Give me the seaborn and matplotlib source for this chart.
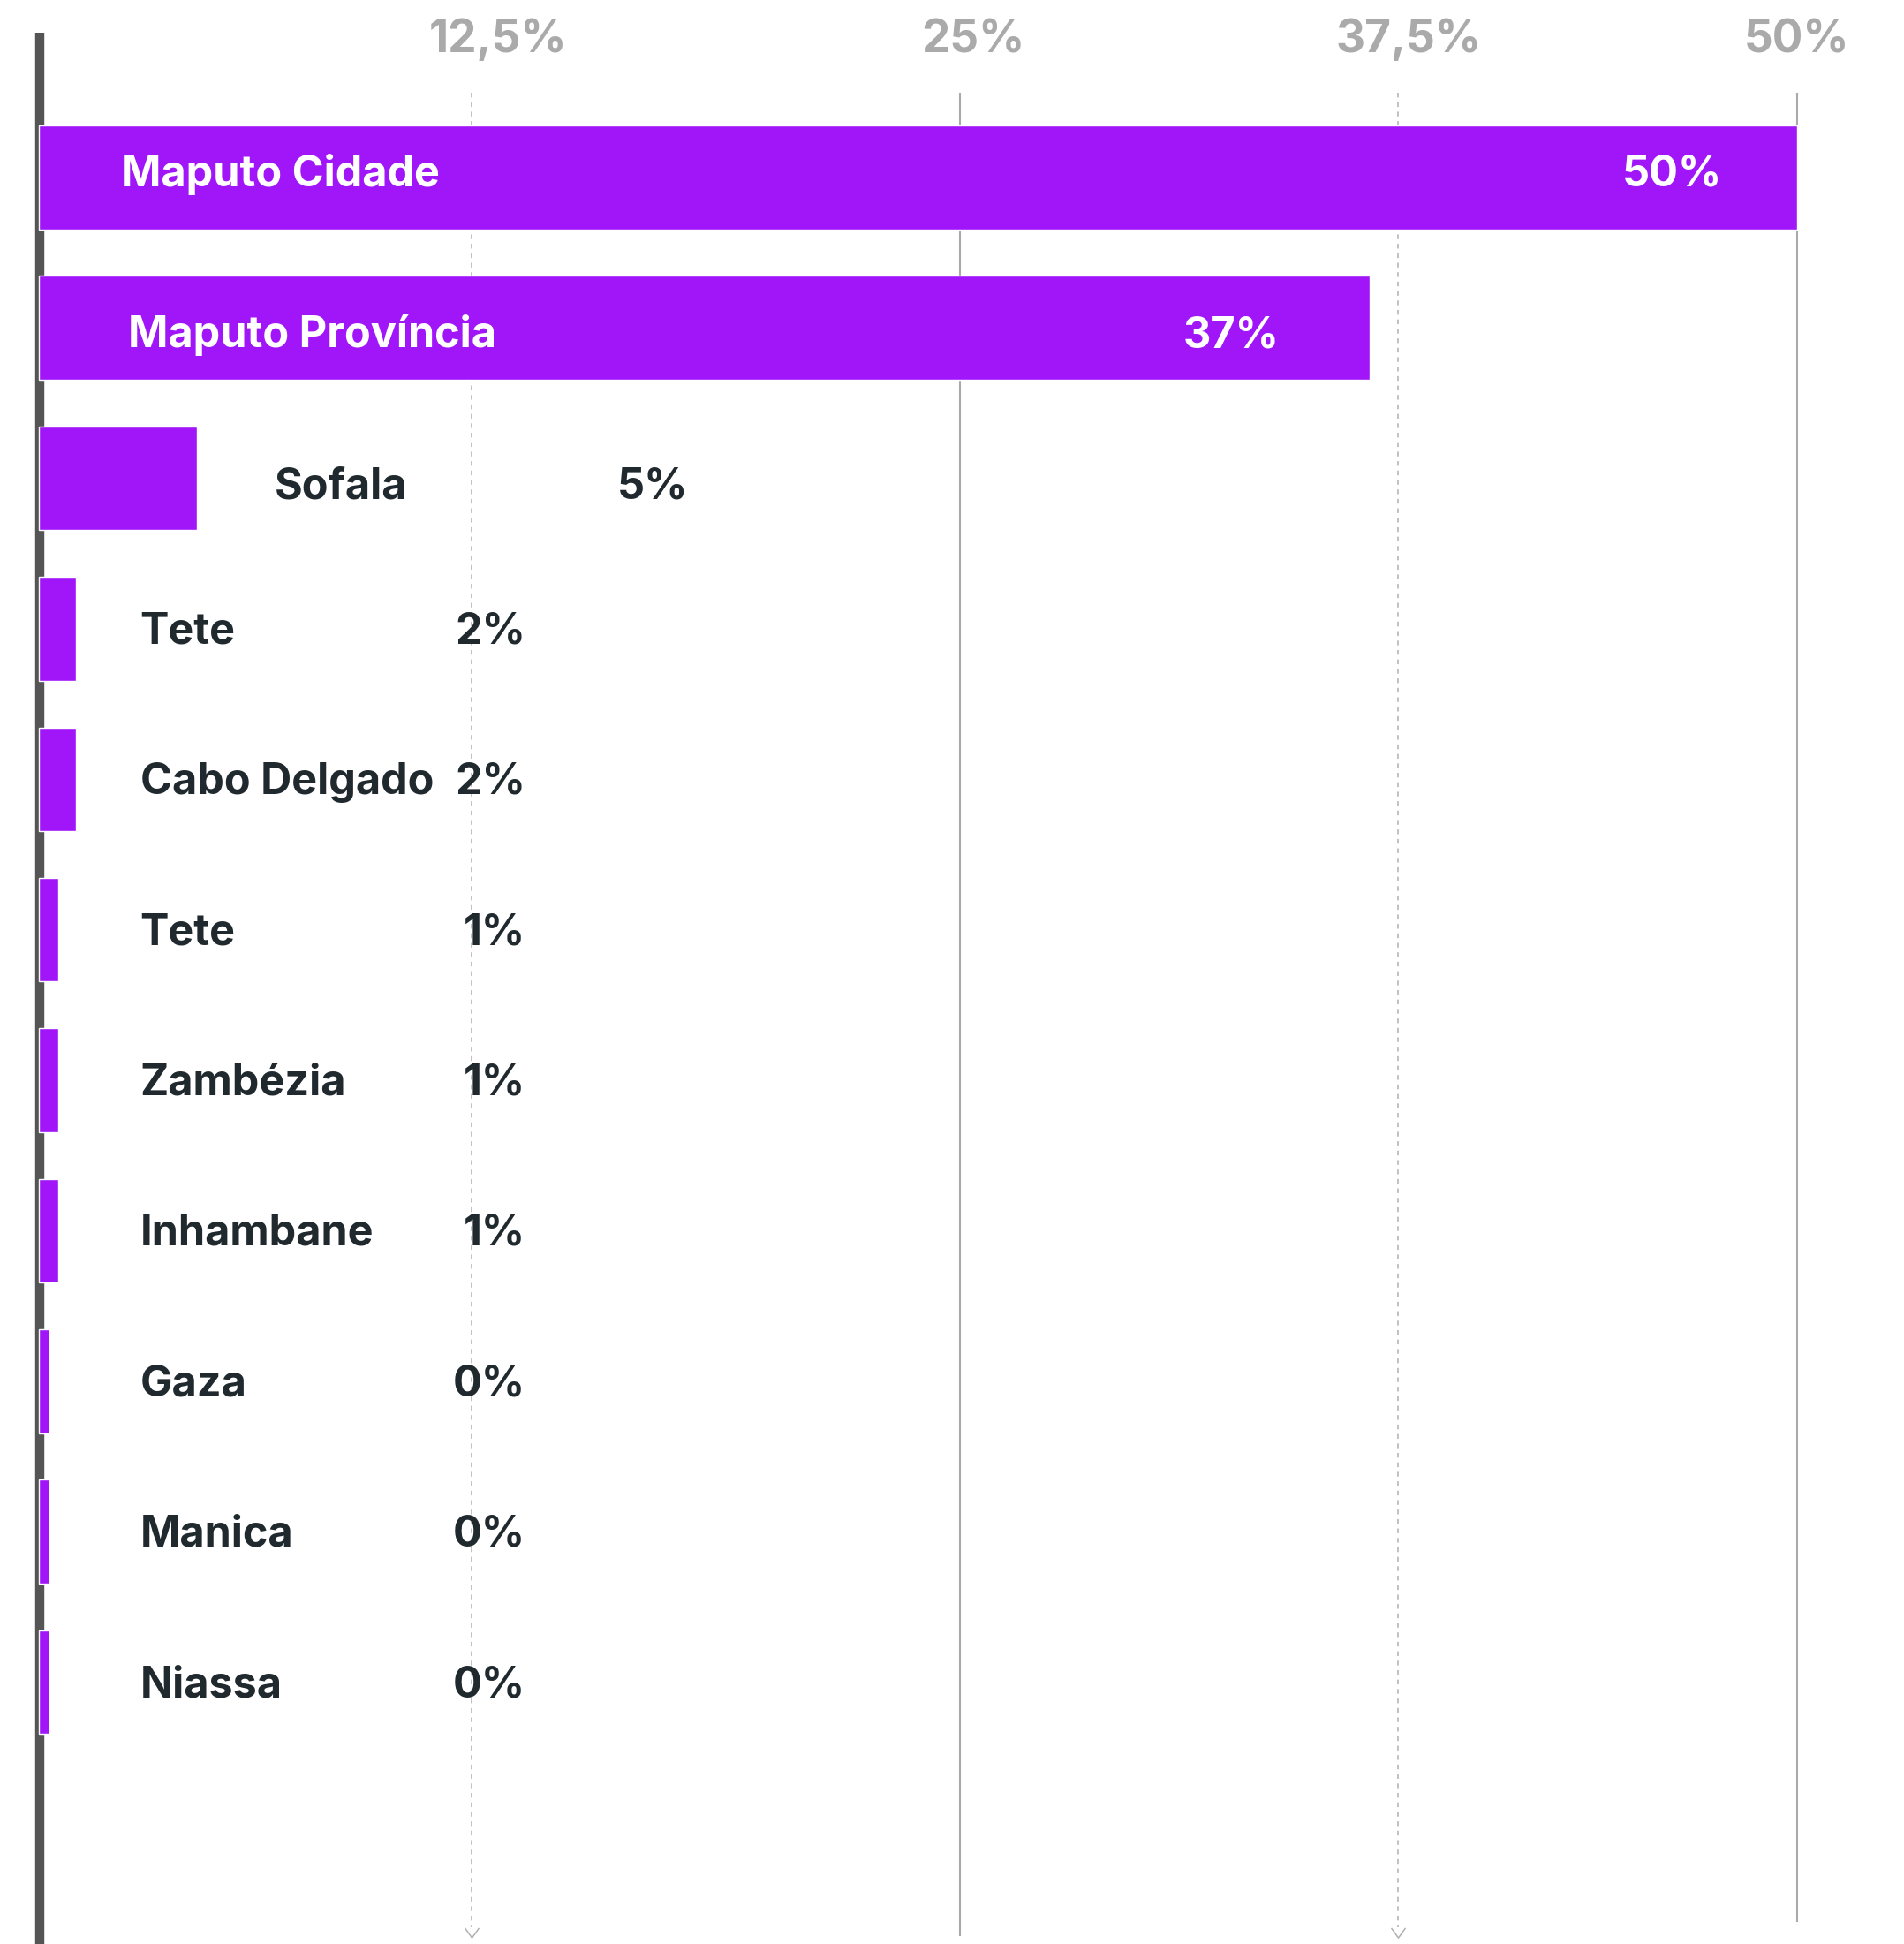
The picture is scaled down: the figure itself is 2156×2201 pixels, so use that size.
import matplotlib
matplotlib.use("Agg")
import matplotlib.pyplot as plt
from matplotlib.path import Path
import seaborn as sns

# Data
regions = ["Maputo Cidade", "Maputo Província", "Sofala", "Tete", "Cabo Delgado",
           "Tete", "Zambézia", "Inhambane", "Gaza", "Manica", "Niassa"]
shares = [50, 37.85, 4.5, 1.05, 1.05, 0.55, 0.55, 0.55, 0.3, 0.3, 0.3]
share_labels = ["50%", "37%", "5%", "2%", "2%", "1%", "1%", "1%", "0%", "0%", "0%"]

# gridlines as drawn in the reference (they are not quite at their nominal values)
grid_values = [12.3, 26.2, 38.65, 50]
grid_labels = ["12,5%", "25%", "37,5%", "50%"]
grid_label_x = [13.06, 26.57, 38.94, 50]
grid_dashed = [True, False, True, False]

PURPLE = "#A116F9"
DARK = "#20292E"
GRID = "#AAAAAA"

sns.set_style("white")
plt.rcParams["font.family"] = ["Inter", "DejaVu Sans"]

fig = plt.figure(figsize=(21.56, 22.01), dpi=100)
ax = fig.add_axes([0, 0, 1, 1])

rows = list(range(len(regions)))
sns.barplot(x=shares, y=rows, orient="h", color=PURPLE, saturation=1,
            width=0.69, ax=ax, zorder=3)

ax.set_xlim(-1.105, 53.04)
ax.set_ylim(11.739, -1.178)
ax.axis("off")

# left axis line (bars sit on top of it)
ax.vlines(0.03, -0.96, 12, color="#555555", lw=7.5, zorder=2, capstyle="butt")

# gridlines + top labels
chevron = Path([(-1, 0.7), (0, -0.7), (1, 0.7)], [Path.MOVETO, Path.LINETO, Path.LINETO])
for g, lab, lx, dashed in zip(grid_values, grid_labels, grid_label_x, grid_dashed):
    if dashed:
        ax.vlines(g, -0.562, 11.63, color="#B0B0B0", lw=1.1, linestyles=(0, (3.5, 3.5)), zorder=1)
        ax.plot([g], [11.66], marker=chevron, markersize=11.5, mfc="none",
                mec="#B0B0B0", mew=1.1, zorder=1)
    else:
        end = 11.686 if g < 40 else 11.592
        ax.vlines(g, -0.562, end, color=GRID, lw=1.5, zorder=1)
    ax.text(lx, -0.830, lab, ha="center", va="baseline", fontsize=37,
            fontweight="bold", color=GRID)

# labels for each bar
for i, (name, v, lab) in enumerate(zip(regions, shares, share_labels)):
    if v > 45:
        name_x, val_x, col, base = 2.34, v - 2.12, "white", 0.059
    elif v > 30:
        name_x, val_x, col, base = 2.54, v - 2.57, "white", 0.129
    elif v > 3:
        name_x, val_x, col, base = v + 2.2, 18.46, DARK, 0.134
    else:
        name_x, val_x, col, base = 2.88, 13.84, DARK, 0.096
    ax.text(name_x, i + base, name, ha="left", va="baseline", fontsize=35,
            fontweight="bold", color=col, zorder=4)
    ax.text(val_x, i + base, lab, ha="right", va="baseline", fontsize=35,
            fontweight="bold", color=col, zorder=4)

fig.savefig("out.png", dpi=100)
